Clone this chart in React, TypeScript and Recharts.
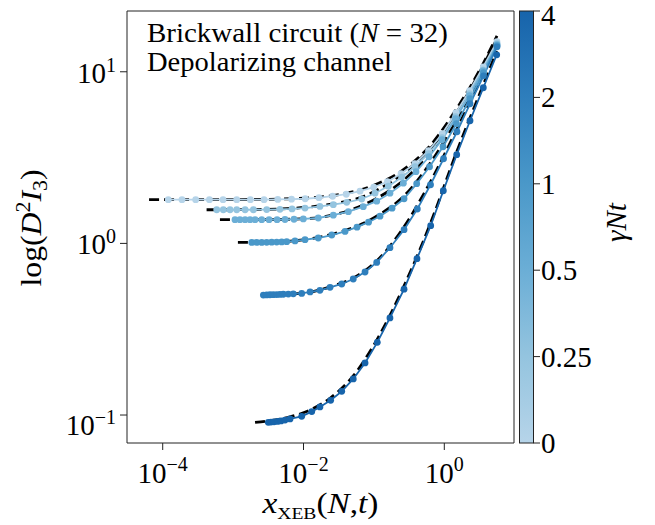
import React from 'react';
import { LineChart, Line, XAxis, YAxis, ReferenceLine } from 'recharts';

// colour scale (gamma N t) and its tick labels
const gammaNt = [0, 0.25, 0.5, 1, 2, 4];
const colors = ['#b6d4e9', '#94c4df', '#6baed6', '#4a98c9', '#2e7ebc', '#1764ab'];
const cbTicks = ['0', '0.25', '0.5', '1', '2', '4'];

const xTicks = [1e-4, 1e-2, 1];
const yTicks = [0.1, 1, 10];

// simulation points, one pair of arrays per gamma N t
const c1X = [1.2e-4, 1.88e-4, 2.94e-4, 4.61e-4, 7.19e-4, 1.125e-3, 1.76e-3, 2.75e-3, 4.31e-3, 6.76e-3, 1.057e-2, 1.655e-2, 2.59e-2, 4.05e-2, 6.35e-2, 9.94e-2, 0.1555, 0.2427, 0.381, 0.597, 0.934, 1.462, 2.29, 3.58, 5.6];
const c1Y = [1.797, 1.797, 1.797, 1.797, 1.797, 1.797, 1.797, 1.797, 1.803, 1.81, 1.82, 1.846, 1.883, 1.934, 2.014, 2.125, 2.287, 2.547, 2.912, 3.467, 4.355, 5.77, 7.75, 10.69, 14.96];

const c2X = [5.85e-4, 7.26e-4, 9.04e-4, 1.125e-3, 1.48e-3, 1.94e-3, 3.0e-3, 4.63e-3, 6.87e-3, 1.05e-2, 1.71e-2, 2.65e-2, 4.11e-2, 6.71e-2, 0.1037, 0.16, 0.248, 0.384, 0.597, 0.927, 1.442, 2.28, 3.548, 5.6];
const c2Y = [1.571, 1.571, 1.571, 1.571, 1.571, 1.571, 1.575, 1.579, 1.588, 1.607, 1.643, 1.681, 1.734, 1.814, 1.961, 2.153, 2.43, 2.797, 3.33, 4.127, 5.47, 7.445, 10.27, 14.56];

const c3X = [1.064e-3, 1.25e-3, 1.48e-3, 1.74e-3, 2.05e-3, 2.55e-3, 3.24e-3, 4.21e-3, 5.46e-3, 7.33e-3, 9.93e-3, 1.62e-2, 2.65e-2, 4.33e-2, 7.06e-2, 0.1096, 0.169, 0.262, 0.396, 0.607, 0.927, 1.442, 2.28, 3.548, 5.6];
const c3Y = [1.374, 1.374, 1.374, 1.374, 1.374, 1.374, 1.374, 1.374, 1.378, 1.383, 1.389, 1.406, 1.46, 1.53, 1.636, 1.762, 1.961, 2.242, 2.616, 3.198, 4.018, 5.324, 7.248, 10.13, 14.37];

const c4X = [1.84e-3, 2.16e-3, 2.55e-3, 3.0e-3, 3.53e-3, 4.16e-3, 4.9e-3, 5.77e-3, 7.57e-3, 1.05e-2, 1.62e-2, 2.52e-2, 3.89e-2, 5.75e-2, 8.38e-2, 0.122, 0.181, 0.268, 0.405, 0.617, 0.959, 1.49, 2.317, 3.606, 5.6];
const c4Y = [1.013, 1.013, 1.013, 1.015, 1.016, 1.018, 1.02, 1.023, 1.034, 1.051, 1.075, 1.119, 1.175, 1.243, 1.329, 1.44, 1.603, 1.82, 2.227, 2.797, 3.658, 4.98, 6.963, 9.867, 14.18];

const c5X = [2.69e-3, 3.0e-3, 3.34e-3, 3.72e-3, 4.16e-3, 4.63e-3, 5.16e-3, 6.08e-3, 7.16e-3, 9.42e-3, 1.24e-2, 1.71e-2, 2.38e-2, 3.49e-2, 5.09e-2, 7.48e-2, 0.1096, 0.169, 0.268, 0.4135, 0.637, 0.975, 1.514, 2.317, 3.606, 5.6];
const c5Y = [0.5, 0.501, 0.502, 0.5026, 0.5033, 0.504, 0.5054, 0.5068, 0.5081, 0.5109, 0.5213, 0.5326, 0.5544, 0.5801, 0.6204, 0.6814, 0.775, 0.944, 1.202, 1.586, 2.197, 3.113, 4.473, 6.51, 9.477, 13.98];

const c6X = [3.16e-3, 3.45e-3, 3.81e-3, 4.28e-3, 4.79e-3, 5.46e-3, 6.43e-3, 9.42e-3, 1.31e-2, 1.71e-2, 2.43e-2, 3.49e-2, 5.09e-2, 7.48e-2, 0.1117, 0.169, 0.268, 0.409, 0.641, 0.968, 1.5, 2.317, 3.58, 5.55];
const c6Y = [0.0907, 0.091, 0.0913, 0.0918, 0.0924, 0.0934, 0.0949, 0.0983, 0.1047, 0.1115, 0.1218, 0.1374, 0.1623, 0.2011, 0.2651, 0.3677, 0.5412, 0.8145, 1.268, 2.027, 3.286, 5.184, 8.069, 12.56];

// theory curves (black dashed)
const t1X = [6.4e-5, 1.2e-4, 1.1e-3, 6.8e-3, 1.66e-2, 4.05e-2, 9.94e-2, 0.2427, 0.597, 1.462, 3.58, 5.6];
const t1Y = [1.797, 1.797, 1.8, 1.82, 1.86, 1.96, 2.18, 2.63, 3.62, 6.0, 11.2, 16.2];
const t2X = [4.2e-4, 9.0e-4, 3.0e-3, 1.05e-2, 2.65e-2, 6.71e-2, 0.16, 0.384, 0.927, 2.28, 5.6];
const t2Y = [1.571, 1.571, 1.58, 1.62, 1.7, 1.86, 2.23, 2.92, 4.3, 7.75, 15.6];
const t3X = [6.5e-4, 2.05e-3, 5.46e-3, 1.62e-2, 4.33e-2, 0.1096, 0.262, 0.607, 1.442, 3.548, 5.6];
const t3Y = [1.374, 1.374, 1.38, 1.415, 1.55, 1.83, 2.33, 3.32, 5.55, 10.5, 15.3];
const t4X = [1.17e-3, 3.0e-3, 7.57e-3, 2.52e-2, 5.75e-2, 0.122, 0.268, 0.617, 1.49, 3.606, 5.6];
const t4Y = [1.013, 1.016, 1.036, 1.13, 1.26, 1.48, 1.89, 2.9, 5.2, 10.3, 15.0];
const t5X = [2.69e-3, 9.42e-3, 2.38e-2, 5.09e-2, 0.1096, 0.268, 0.637, 1.514, 3.606, 5.6];
const t5Y = [0.5, 0.512, 0.558, 0.628, 0.79, 1.25, 2.29, 4.65, 9.85, 14.6];
const t6X = [2.05e-3, 3.16e-3, 6.43e-3, 1.31e-2, 2.43e-2, 5.09e-2, 0.1117, 0.268, 0.641, 1.5, 3.58, 5.55];
const t6Y = [0.0905, 0.0925, 0.0975, 0.108, 0.126, 0.169, 0.277, 0.565, 1.32, 3.42, 8.4, 13.2];

const W = 655;
const H = 525;
// plot box
const PL = 127;
const PT = 11;
const PR = 514;
const PB = 443;
const XMIN = 3.11e-5;
const XMAX = 9.77;
const YMIN = 0.0687;
const YMAX = 22.6;

const FONT = "'Liberation Serif', 'DejaVu Serif', serif";
const AX = '#222';

const pts = (xs: number[], ys: number[]) => xs.map((x, i) => ({ x, y: ys[i] }));

const simSeries = [pts(c1X, c1Y), pts(c2X, c2Y), pts(c3X, c3Y), pts(c4X, c4Y), pts(c5X, c5Y), pts(c6X, c6Y)];
const theorySeries = [pts(t1X, t1Y), pts(t2X, t2Y), pts(t3X, t3Y), pts(t4X, t4Y), pts(t5X, t5Y), pts(t6X, t6Y)];

const expLabel = (v: number) => {
  const e = Math.round(Math.log10(v));
  return e < 0 ? '\u2212' + -e : String(e);
};

const XTick = (props: any) => {
  const { x, payload } = props;
  return (
    <text x={x} y={PB + 40} textAnchor="middle" fontFamily={FONT} fontSize={29} fill="#000">
      <tspan>10</tspan>
      <tspan dy={-12} fontSize={20}>{expLabel(payload.value)}</tspan>
    </text>
  );
};

const YTick = (props: any) => {
  const { y, payload } = props;
  const neg = payload.value < 1;
  return (
    <text x={PL - 11} y={y + (neg ? 20 : 11)} textAnchor="end" fontFamily={FONT} fontSize={29} fill="#000">
      <tspan>10</tspan>
      <tspan dy={-11} fontSize={20}>{expLabel(payload.value)}</tspan>
    </text>
  );
};

export default function App() {
  const cbStep = (PB - PT) / (cbTicks.length - 1);

  return (
    <div style={{ position: 'absolute', left: 0, top: 0, width: W, height: H, background: '#fff' }}>
      <LineChart width={W} height={H} margin={{ top: PT, right: W - PR, bottom: 0, left: 0 }}>
        <XAxis
          type="number"
          dataKey="x"
          scale="log"
          domain={[XMIN, XMAX]}
          allowDataOverflow
          ticks={xTicks}
          interval={0}
          tick={XTick}
          tickSize={7}
          height={H - PB}
          stroke={AX}
        />
        <YAxis
          type="number"
          scale="log"
          domain={[YMIN, YMAX]}
          allowDataOverflow
          ticks={yTicks}
          interval={0}
          tick={YTick}
          tickSize={7}
          width={PL}
          stroke={AX}
        />
        <ReferenceLine x={XMAX} stroke={AX} strokeWidth={1} />
        <ReferenceLine y={YMAX} stroke={AX} strokeWidth={1} />

        {/* theory curves under the data */}
        {theorySeries.map((d, i) => (
          <Line
            key={'t' + i}
            data={d}
            dataKey="y"
            type="monotone"
            stroke="#000"
            strokeWidth={2.8}
            strokeDasharray="10 5"
            dot={false}
            activeDot={false}
            isAnimationActive={false}
          />
        ))}

        {simSeries.map((d, i) => (
          <Line
            key={'s' + gammaNt[i]}
            data={d}
            dataKey="y"
            type="linear"
            stroke={colors[i]}
            strokeWidth={1.8}
            dot={{ r: 3.4, fill: colors[i], stroke: colors[i], strokeWidth: 0 }}
            activeDot={false}
            isAnimationActive={false}
          />
        ))}
      </LineChart>

      <svg
        width={W}
        height={H}
        style={{ position: 'absolute', left: 0, top: 0, pointerEvents: 'none' }}
      >
        <defs>
          <linearGradient id="cbGrad" x1="0" y1="1" x2="0" y2="0">
            {colors.map((c, i) => (
              <stop key={i} offset={i / (colors.length - 1)} stopColor={c} />
            ))}
          </linearGradient>
        </defs>

        {/* annotation */}
        <text x={147} y={41.7} fontFamily={FONT} fontSize={26.5} fill="#000" textLength={301} lengthAdjust="spacingAndGlyphs">
          Brickwall circuit (<tspan fontStyle="italic">N</tspan> = 32)
        </text>
        <text x={147} y={70.7} fontFamily={FONT} fontSize={26.5} fill="#000" textLength={245} lengthAdjust="spacingAndGlyphs">
          Depolarizing channel
        </text>

        {/* axis labels */}
        <text x={320.5} y={513} textAnchor="middle" fontFamily={FONT} fontSize={29} fill="#000" textLength={116} lengthAdjust="spacingAndGlyphs">
          <tspan fontStyle="italic">x</tspan>
          <tspan dy={6} fontSize={17}>XEB</tspan>
          <tspan dy={-6}>(</tspan>
          <tspan fontStyle="italic">N</tspan>
          <tspan>,</tspan>
          <tspan fontStyle="italic">t</tspan>
          <tspan>)</tspan>
        </text>
        <text
          x={41}
          y={228}
          transform="rotate(-90, 41, 228)"
          textAnchor="middle"
          fontFamily={FONT}
          fontSize={29}
          fill="#000"
          textLength={117}
          lengthAdjust="spacingAndGlyphs"
        >
          <tspan>log(</tspan>
          <tspan fontStyle="italic">D</tspan>
          <tspan dy={-11} fontSize={20}>2</tspan>
          <tspan dy={11} fontStyle="italic">I</tspan>
          <tspan dy={6} fontSize={20}>3</tspan>
          <tspan dy={-6}>)</tspan>
        </text>

        {/* colour bar */}
        <rect x={519.5} y={PT} width={14} height={PB - PT} fill="url(#cbGrad)" stroke={AX} strokeWidth={1} />
        {cbTicks.map((t, i) => {
          const ty = PB - i * cbStep;
          return (
            <g key={t}>
              <line x1={533.5} x2={540} y1={ty} y2={ty} stroke={AX} strokeWidth={1} />
              <text x={541} y={Math.max(ty + 10, 25)} fontFamily={FONT} fontSize={29} fill="#000">
                {t}
              </text>
            </g>
          );
        })}
        <text
          x={626}
          y={222.5}
          transform="rotate(-90, 626, 222.5)"
          textAnchor="middle"
          fontFamily={FONT}
          fontSize={29}
          fontStyle="italic"
          fill="#000"
        >
          γNt
        </text>
      </svg>
    </div>
  );
}
